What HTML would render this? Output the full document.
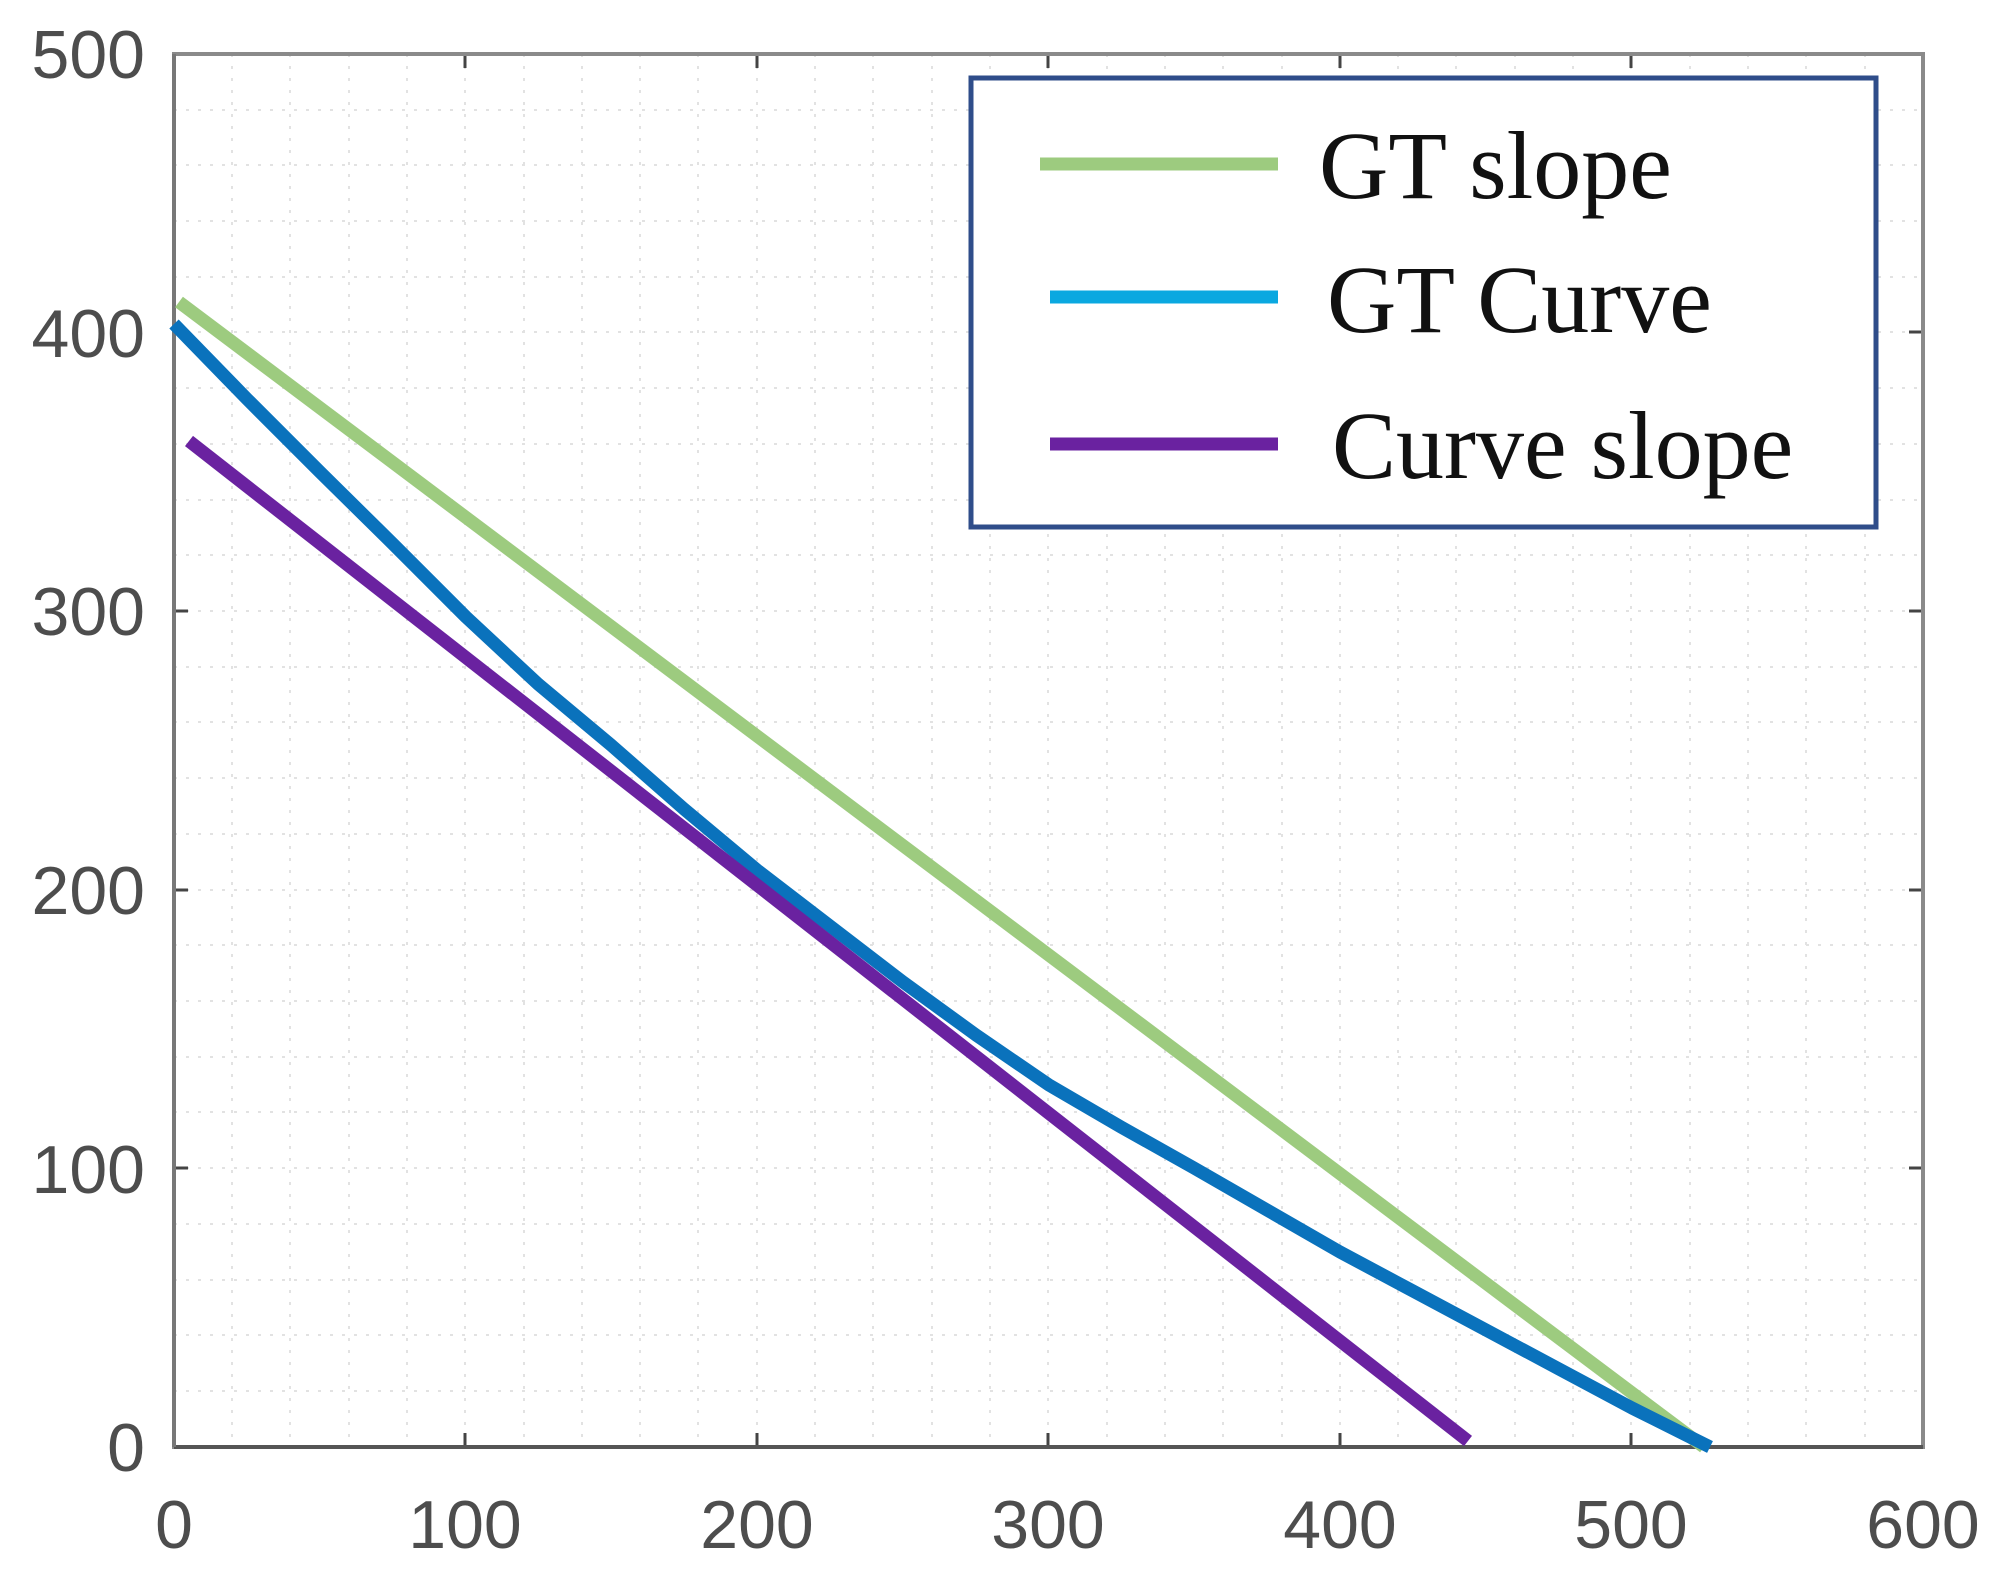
<!DOCTYPE html>
<html><head><meta charset="utf-8"><style>html,body{margin:0;padding:0;background:#fff}svg{display:block}</style></head>
<body>
<svg width="2008" height="1584" viewBox="0 0 2008 1584" xmlns="http://www.w3.org/2000/svg">
<rect width="2008" height="1584" fill="#fff"/>
<g stroke="#e2e2e2" stroke-width="2" stroke-dasharray="3,9">
<path d="M232 54V1447M290 54V1447M349 54V1447M407 54V1447M465 54V1447M524 54V1447M582 54V1447M640 54V1447M698 54V1447M757 54V1447M815 54V1447M873 54V1447M932 54V1447M990 54V1447M1048 54V1447M1107 54V1447M1165 54V1447M1223 54V1447M1282 54V1447M1340 54V1447M1398 54V1447M1456 54V1447M1515 54V1447M1573 54V1447M1631 54V1447M1690 54V1447M1748 54V1447M1806 54V1447M1865 54V1447"/>
<path d="M174 1391H1923M174 1335H1923M174 1280H1923M174 1224H1923M174 1168H1923M174 1112H1923M174 1057H1923M174 1001H1923M174 945H1923M174 890H1923M174 834H1923M174 778H1923M174 722H1923M174 667H1923M174 611H1923M174 555H1923M174 500H1923M174 444H1923M174 388H1923M174 332H1923M174 277H1923M174 221H1923M174 165H1923M174 110H1923"/>
</g>
<g stroke="#444" stroke-width="3">
<path d="M465 1447v-14M757 1447v-14M1048 1447v-14M1340 1447v-14M1631 1447v-14"/>
<path d="M465 54v14M757 54v14M1048 54v14M1340 54v14M1631 54v14"/>
<path d="M174 1168h14M174 890h14M174 611h14M174 332h14"/>
<path d="M1923 1168h-14M1923 890h-14M1923 611h-14M1923 332h-14"/>
</g>
<rect x="174" y="54" width="1749" height="1393" fill="none" stroke="#8a8a8a" stroke-width="4"/>
<line x1="174" y1="1447" x2="1923" y2="1447" stroke="#555" stroke-width="4"/>
<line x1="174" y1="54" x2="174" y2="1447" stroke="#777" stroke-width="4"/>
<g fill="none" stroke-linecap="butt" stroke-linejoin="round" stroke-width="13">
<polyline stroke="#9dcb7f" points="179,302 1704,1447"/>
<polyline stroke="#0a72bc" points="174,324 247,399 320,472 393,544 466,617 538,684 611,745 684,809 757,870 830,926 903,982 976,1035 1049,1085 1121,1127 1194,1168 1267,1210 1340,1252 1413,1291 1486,1330 1559,1369 1632,1408 1710,1447"/>
<polyline stroke="#6a22a0" points="189,441 1468,1441"/>
</g>
<g font-family="Liberation Sans, sans-serif" font-size="68" fill="#4d4d4d">
<g text-anchor="end">
<text x="145" y="78">500</text>
<text x="145" y="357">400</text>
<text x="145" y="635">300</text>
<text x="145" y="914">200</text>
<text x="145" y="1193">100</text>
<text x="145" y="1471">0</text>
</g>
<g text-anchor="middle">
<text x="174" y="1548">0</text>
<text x="465" y="1548">100</text>
<text x="757" y="1548">200</text>
<text x="1048" y="1548">300</text>
<text x="1340" y="1548">400</text>
<text x="1631" y="1548">500</text>
<text x="1923" y="1548">600</text>
</g>
</g>
<rect x="971" y="78" width="905" height="449" fill="#fff" stroke="#2f4d8a" stroke-width="5"/>
<line x1="1040" y1="164" x2="1278" y2="164" stroke="#9dcb7f" stroke-width="13"/>
<line x1="1050" y1="297" x2="1278" y2="297" stroke="#0aa8e0" stroke-width="13"/>
<line x1="1050" y1="444" x2="1278" y2="444" stroke="#6a22a0" stroke-width="13"/>
<g font-family="Liberation Serif, serif" font-size="96" fill="#111">
<text x="1319" y="198">GT slope</text>
<text x="1327" y="332">GT Curve</text>
<text x="1332" y="478">Curve slope</text>
</g>
</svg>
</body></html>
